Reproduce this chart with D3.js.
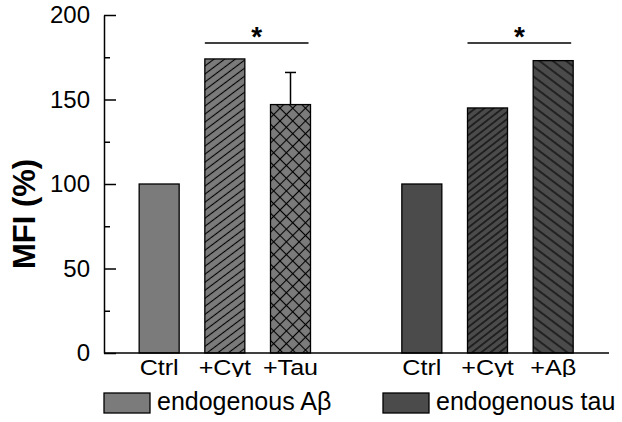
<!DOCTYPE html>
<html><head><meta charset="utf-8">
<script src="https://cdn.jsdelivr.net/npm/d3@7"></script>
<style>body{margin:0;background:#fff}svg{display:block}</style>
</head><body><svg id="c" width="622" height="422"></svg>
<script>
const categories = ["Ctrl","+Cyt","+Tau","Ctrl","+Cyt","+Aβ"];
const slots = [0,1,2,4,5,6];
const values = [100,174,147,100,145,173];
const errorsUp = [0,0,19,0,0,0];
const groups = [0,0,0,1,1,1];
const patternKinds = ["solid","fwd","cross","solid","fwd2","back"];
const groupNames = ["endogenous Aβ","endogenous tau"];
const groupColors = ["#7b7b7b","#4b4b4b"];
const yTicks = [0,50,100,150,200];
const yMinorTicks = [25,75,125,175];
const sigFrom = [1,4];
const sigTo = [2,5];
const sigLabels = ["*","*"];
const yTitle = "MFI (%)";

const FONT = "'Liberation Sans', Arial, Helvetica, sans-serif";
const svg = d3.select("#c").style("font-family", FONT);
const x = d3.scaleLinear().domain([-0.84, 6.85]).range([104, 609]);
const y = d3.scaleLinear().domain([0, 200]).range([353, 15]);
const bw = 40;

const defs = svg.append("defs");
function linePattern(id, color, spacing, angle) {
  const p = defs.append("pattern").attr("id", id)
    .attr("patternUnits", "userSpaceOnUse")
    .attr("width", 20).attr("height", spacing)
    .attr("patternTransform", `rotate(${angle})`);
  p.append("rect").attr("width", 20).attr("height", spacing).attr("fill", color);
  p.append("line").attr("x1", 0).attr("x2", 20).attr("y1", spacing/2).attr("y2", spacing/2)
    .attr("stroke", "#000").attr("stroke-width", 1.1);
}
function crossPattern(id, color, s) {
  const p = defs.append("pattern").attr("id", id)
    .attr("patternUnits", "userSpaceOnUse")
    .attr("width", s).attr("height", s)
    .attr("patternTransform", "rotate(45)");
  p.append("rect").attr("width", s).attr("height", s).attr("fill", color);
  p.append("line").attr("x1", 0).attr("x2", s).attr("y1", s/2).attr("y2", s/2).attr("stroke", "#000").attr("stroke-width", 1.1);
  p.append("line").attr("y1", 0).attr("y2", s).attr("x1", s/2).attr("x2", s/2).attr("stroke", "#000").attr("stroke-width", 1.1);
}
linePattern("p-fwd", groupColors[0], 6.4, -37);
crossPattern("p-cross", groupColors[0], 9);
linePattern("p-fwd2", groupColors[1], 5.6, -38);
linePattern("p-back", groupColors[1], 8, 37);

function fillFor(i) {
  const k = patternKinds[i];
  if (k === "solid") return groupColors[groups[i]];
  return `url(#p-${k})`;
}

// Bars
const bars = categories.map((c, i) => ({c, i, slot: slots[i], v: values[i], e: errorsUp[i]}));
svg.append("g").selectAll("rect").data(bars).join("rect")
  .attr("x", d => x(d.slot) - bw/2)
  .attr("y", d => y(d.v))
  .attr("width", bw)
  .attr("height", d => y(0) - y(d.v))
  .attr("fill", d => fillFor(d.i))
  .attr("stroke", "#000").attr("stroke-width", 1.3);

// Error bars
const eb = svg.append("g").attr("stroke", "#000").attr("stroke-width", 1.5);
bars.filter(d => d.e > 0).forEach(d => {
  eb.append("line").attr("x1", x(d.slot)).attr("x2", x(d.slot)).attr("y1", y(d.v)).attr("y2", y(d.v + d.e));
  eb.append("line").attr("x1", x(d.slot) - 5.5).attr("x2", x(d.slot) + 5.5).attr("y1", y(d.v + d.e)).attr("y2", y(d.v + d.e));
});

// Y axis
const yAxis = d3.axisLeft(y).tickValues(yTicks).tickSize(-12).tickSizeOuter(0).tickPadding(14);
const gy = svg.append("g").attr("transform", `translate(${x.range()[0]},0)`).call(yAxis);
gy.selectAll("text").attr("font-size", 24).attr("font-family", FONT).attr("fill", "#000");
gy.selectAll("line, path").attr("stroke", "#000").attr("stroke-width", 1.5);
const gym = svg.append("g").attr("transform", `translate(${x.range()[0]},0)`)
  .call(d3.axisLeft(y).tickValues(yMinorTicks).tickSize(-6).tickSizeOuter(0).tickFormat(""));
gym.select("path").remove();
gym.selectAll("line").attr("stroke", "#000").attr("stroke-width", 1.5);

// X axis line
svg.append("line").attr("x1", x.range()[0]).attr("x2", x.range()[1])
  .attr("y1", y(0)).attr("y2", y(0)).attr("stroke", "#000").attr("stroke-width", 1.5);

// X labels (slightly wide glyphs, bottom clipped like reference)
defs.append("clipPath").attr("id", "lblclip").append("rect").attr("x", 0).attr("y", 354).attr("width", 622).attr("height", 23);
svg.append("g").attr("clip-path", "url(#lblclip)").selectAll("text").data(bars).join("text")
  .attr("transform", d => `translate(${x(d.slot)},375) scale(1.17,1)`)
  .attr("text-anchor", "middle").attr("font-size", 21.5).attr("fill", "#000")
  .text(d => d.c);

// Y title
svg.append("text").attr("transform", "translate(35,214) rotate(-90)")
  .attr("text-anchor", "middle").attr("font-size", 31).attr("font-weight", "bold")
  .text(yTitle);

// Significance
sigFrom.forEach((f, k) => {
  const x1 = x(slots[f]) - bw/2, x2 = x(slots[sigTo[k]]) + bw/2 - 2;
  svg.append("line").attr("x1", x1).attr("x2", x2).attr("y1", 43).attr("y2", 43)
    .attr("stroke", "#000").attr("stroke-width", 1.6);
  svg.append("text").attr("x", (x1 + x2) / 2).attr("y", 46)
    .attr("text-anchor", "middle").attr("font-size", 28).attr("font-weight", "bold")
    .text(sigLabels[k]);
});

// Legend
const legX = [104, 383];
groupNames.forEach((n, g) => {
  svg.append("rect").attr("x", legX[g]).attr("y", 393).attr("width", 46).attr("height", 20)
    .attr("fill", groupColors[g]).attr("stroke", "#000").attr("stroke-width", 1.3);
  svg.append("text").attr("x", legX[g] + 53).attr("y", 410).attr("font-size", 25).text(n);
});
</script></body></html>
